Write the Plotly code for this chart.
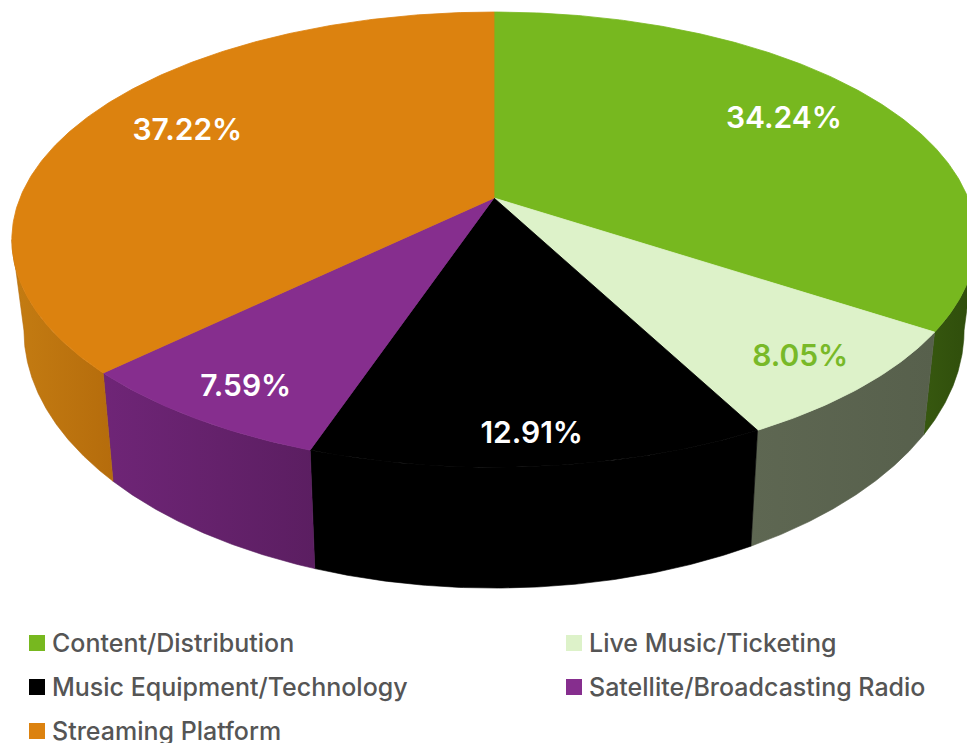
import numpy as np
import plotly.graph_objects as go

# Market share by segment
categories = [
    "Content/Distribution",
    "Live Music/Ticketing",
    "Music Equipment/Technology",
    "Satellite/Broadcasting Radio",
    "Streaming Platform",
]
shares = [34.24, 8.05, 12.91, 7.59, 37.22]
share_labels = ["34.24%", "8.05%", "12.91%", "7.59%", "37.22%"]

top_colors = ["#77b81f", "#ddf2c9", "#000000", "#862e8e", "#dc820f"]
side_colors = [
    ("#37580f", "#2e4c0b"),
    ("#5e6752", "#57604c"),
    ("#000000", "#000000"),
    ("#6f2577", "#5b1e61"),
    ("#c47c12", "#b56c0c"),
]
label_colors = ["#ffffff", "#78b928", "#ffffff", "#ffffff", "#ffffff"]
# key layout: column and row of each category
key_column = [0, 1, 0, 1, 0]
key_row = [0, 0, 1, 1, 2]

W, H = 967, 743
FONT = "Inter"

# Tilted-disc projection (pixel space, y downwards)
CX, CY = 494.0, 198.0      # pie centre on the top face
RX, RY = 474.0, 220.0      # horizontal / vertical radii
PERSP = 0.183              # perspective strength (near edge looks larger)
BOT_SX, BOT_SY, BOT_DY = 0.975, 1.133, 85.0   # bottom face relative to the top face

# key placement
KEY_X = [37.0, 574.0]      # square centres per column
KEY_Y0, KEY_DY = 643.0, 44.0
KEY_TEXT_GAP = 13.0


def project(theta_deg, r=1.0):
    t = np.radians(theta_deg)
    u = r * np.sin(t)
    v = -r * np.cos(t)
    s = 1.0 / (1.0 - PERSP * v)
    return CX + RX * u * s, CY + RY * v * s


def project_bottom(theta_deg):
    x, y = project(theta_deg)
    return CX + BOT_SX * (x - CX), CY + BOT_SY * (y - CY) + BOT_DY


# angles run clockwise from 12 o'clock
total = float(sum(shares))
ends = np.cumsum(shares) / total * 360.0
starts = np.concatenate([[0.0], ends[:-1]])

# the rim faces the viewer between the two horizontal extremes of the top face
theta_right = np.degrees(np.arccos(-PERSP))
theta_left = 360.0 - theta_right

fig = go.Figure()

# rim (side walls)
for i, cat in enumerate(categories):
    a0 = max(starts[i], theta_right)
    a1 = min(ends[i], theta_left)
    if a1 <= a0:
        continue
    th = np.linspace(a0, a1, 120)
    tx, ty = project(th)
    bx, by = project_bottom(th[::-1])
    xs = np.concatenate([tx, bx, tx[:1]])
    ys = np.concatenate([ty, by, ty[:1]])
    c1, c2 = side_colors[i]
    fig.add_trace(go.Scatter(
        x=xs, y=ys, mode="lines", fill="toself",
        line=dict(width=0.6, color=c2),
        fillcolor=c1,
        fillgradient=dict(type="horizontal", colorscale=[[0, c1], [1, c2]]),
        hoverinfo="skip", showlegend=False,
    ))

# top faces
for i, cat in enumerate(categories):
    th = np.linspace(starts[i], ends[i], max(int(shares[i] * 6), 20))
    ax, ay = project(th)
    xs = np.concatenate([[CX], ax, [CX]])
    ys = np.concatenate([[CY], ay, [CY]])
    fig.add_trace(go.Scatter(
        x=xs, y=ys, mode="lines", fill="toself",
        line=dict(width=0.8, color=top_colors[i]),
        fillcolor=top_colors[i],
        name=cat, text=share_labels[i], hoveron="fills",
        hoverinfo="name+text", showlegend=False,
    ))

# percentage labels; on the near half they sit a little lower
mids = (starts + ends) / 2.0
lx, ly = [], []
for m in mids:
    v = -np.cos(np.radians(m))
    x, y = project(m, 0.74 if v < 0 else 0.85)
    lx.append(x)
    ly.append(y + 22.0 * max(v, 0.0) ** 3 - 5.0)
fig.add_trace(go.Scatter(
    x=lx, y=ly, mode="text", text=share_labels,
    textfont=dict(family=FONT, size=30, color=label_colors, weight=600),
    hoverinfo="skip", showlegend=False,
))

# key: coloured squares with category names
kx = [KEY_X[c] for c in key_column]
ky = [KEY_Y0 + KEY_DY * r for r in key_row]
fig.add_trace(go.Scatter(
    x=kx, y=ky, mode="markers",
    marker=dict(symbol="square", size=16, color=top_colors, line=dict(width=0)),
    hoverinfo="skip", showlegend=False,
))
for i, cat in enumerate(categories):
    fig.add_annotation(
        x=kx[i] + KEY_TEXT_GAP, y=ky[i], xref="x", yref="y",
        text=cat, showarrow=False, xanchor="left", yanchor="middle",
        font=dict(family=FONT, size=25, color="#555555", weight=500),
    )

fig.update_layout(
    width=W, height=H,
    margin=dict(l=0, r=0, t=0, b=0),
    paper_bgcolor="#ffffff", plot_bgcolor="#ffffff",
    showlegend=False,
    xaxis=dict(range=[0, W], visible=False, fixedrange=True),
    yaxis=dict(range=[H, 0], visible=False, fixedrange=True),
    hoverlabel=dict(font=dict(family=FONT)),
)

fig.write_html("out.html")
